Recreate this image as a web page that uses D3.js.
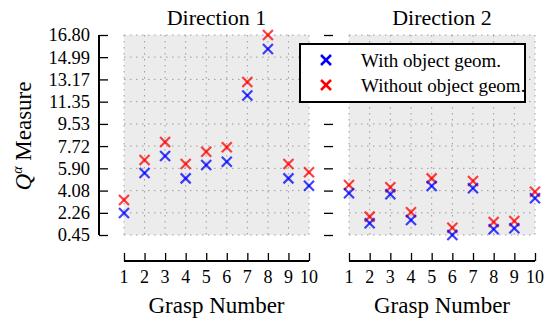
<!DOCTYPE html>
<html>
<head>
<meta charset="utf-8">
<script src="https://cdn.jsdelivr.net/npm/d3@7"></script>
<style>
  body { margin: 0; background: #fff; }
  svg text { font-family: "Liberation Serif", "Times New Roman", serif; }
</style>
</head>
<body>
<svg id="chart" width="545" height="323"></svg>
<script>
// grasp numbers and y tick labels
const grasps = [1, 2, 3, 4, 5, 6, 7, 8, 9, 10];
const yTicks = [0.45, 2.26, 4.08, 5.90, 7.72, 9.53, 11.35, 13.17, 14.99, 16.80];

// Direction 1
const dir1With = [2.25, 5.52, 6.91, 5.08, 6.17, 6.44, 11.85, 15.65, 5.08, 4.48];
const dir1Without = [3.31, 6.58, 8.05, 6.25, 7.26, 7.62, 12.96, 16.80, 6.25, 5.58];

// Direction 2
const dir2With = [3.86, 1.41, 3.78, 1.68, 4.46, 0.45, 4.27, 0.92, 1.00, 3.45];
const dir2Without = [4.54, 1.95, 4.35, 2.31, 5.08, 1.05, 4.86, 1.51, 1.59, 3.99];

const seriesNames = ['With object geom.', 'Without object geom.'];
const colors = ['#0000ff', '#ff0000'];

const svg = d3.select('#chart');

const y = d3.scaleLinear().domain([0.45, 16.80]).range([235, 35]);

const panels = [
    { title: 'Direction 1', x0: 124, x1: 309, data: [dir1With, dir1Without], labels: true },
    { title: 'Direction 2', x0: 349, x1: 535, data: [dir2With, dir2Without], labels: false }
];

function cross(sel, s) {
    sel.append('line').attr('x1', -s).attr('y1', -s).attr('x2', s).attr('y2', s);
    sel.append('line').attr('x1', -s).attr('y1', s).attr('x2', s).attr('y2', -s);
}

panels.forEach(p => {
    const x = d3.scaleLinear().domain([1, 10]).range([p.x0, p.x1]);
    const g = svg.append('g');

    // background + grid
    g.append('rect')
        .attr('x', p.x0).attr('y', y(16.80))
        .attr('width', p.x1 - p.x0).attr('height', y(0.45) - y(16.80))
        .attr('fill', '#ececec');

    g.selectAll('.vgrid').data(grasps).enter().append('line')
        .attr('x1', d => x(d)).attr('x2', d => x(d))
        .attr('y1', y(16.80)).attr('y2', y(0.45))
        .attr('stroke', '#888').attr('stroke-width', 0.8)
        .attr('stroke-dasharray', '1.5,4.5');

    g.selectAll('.hgrid').data(yTicks).enter().append('line')
        .attr('x1', p.x0).attr('x2', p.x1)
        .attr('y1', d => y(d)).attr('y2', d => y(d))
        .attr('stroke', '#888').attr('stroke-width', 0.8)
        .attr('stroke-dasharray', '1.5,4.5');

    // y axis
    const yAxis = d3.axisRight(y).tickValues(yTicks).tickSize(9).tickFormat('');
    if (p.labels) {
        const ya = g.append('g').attr('transform', 'translate(99,0)').call(yAxis);
        ya.select('.domain').attr('stroke-width', 2).attr('d', `M0,${y(16.80)}V${y(0.45)}`);
        ya.selectAll('.tick line').attr('stroke-width', 1.3);
        g.selectAll('.ylab').data(yTicks).enter().append('text')
            .attr('x', 90).attr('y', d => y(d)).attr('dy', '0.35em')
            .attr('text-anchor', 'end').attr('font-size', 18.5)
            .text(d => d.toFixed(2));
    } else {
        const ya = g.append('g').attr('transform', 'translate(324,0)').call(yAxis);
        ya.select('.domain').remove();
        ya.selectAll('.tick line').attr('stroke-width', 1.3);
    }

    // x axis
    const xAxis = d3.axisTop(x).tickValues(grasps).tickSize(8).tickFormat('');
    const xa = g.append('g').attr('transform', 'translate(0,261)').call(xAxis);
    xa.select('.domain').attr('stroke-width', 2).attr('d', `M${p.x0},0H${p.x1}`);
    xa.selectAll('.tick line').attr('stroke-width', 1.3);
    g.selectAll('.xlab').data(grasps).enter().append('text')
        .attr('x', d => x(d)).attr('y', 283)
        .attr('text-anchor', 'middle').attr('font-size', 18)
        .text(d => d);

    g.append('text')
        .attr('x', (p.x0 + p.x1) / 2).attr('y', 313)
        .attr('text-anchor', 'middle').attr('font-size', 23)
        .text('Grasp Number');

    g.append('text')
        .attr('x', (p.x0 + p.x1) / 2).attr('y', 25)
        .attr('text-anchor', 'middle').attr('font-size', 22)
        .text(p.title);

    // points
    [1, 0].forEach(si => {
        g.selectAll('.pt' + si).data(p.data[si]).enter().append('g')
            .attr('transform', (d, i) => `translate(${x(grasps[i])},${y(d)})`)
            .attr('stroke', colors[si]).attr('stroke-width', 2.2)
            .attr('stroke-opacity', 0.75)
            .each(function () { cross(d3.select(this), 5); });
    });
});

// y axis title
svg.append('text')
    .attr('transform', 'translate(31,136) rotate(-90)')
    .attr('text-anchor', 'middle').attr('font-size', 23)
    .call(t => {
        t.append('tspan').attr('font-style', 'italic').text('Q');
        t.append('tspan').attr('font-size', 14).attr('dy', -9).attr('font-style', 'italic').text('α');
        t.append('tspan').attr('dy', 9).text(' Measure');
    });

// legend
const lg = svg.append('g');
lg.append('rect')
    .attr('x', 300).attr('y', 44).attr('width', 225).attr('height', 58)
    .attr('fill', '#fff').attr('stroke', '#000').attr('stroke-width', 2);
seriesNames.forEach((name, i) => {
    const cy = 60 + i * 25;
    lg.append('g').attr('transform', `translate(326,${cy})`)
        .attr('stroke', colors[i]).attr('stroke-width', 2.5)
        .call(s => cross(s, 5));
    lg.append('text').attr('x', 361).attr('y', cy).attr('dy', '0.35em')
        .attr('font-size', 19).text(name);
});
</script>
</body>
</html>
